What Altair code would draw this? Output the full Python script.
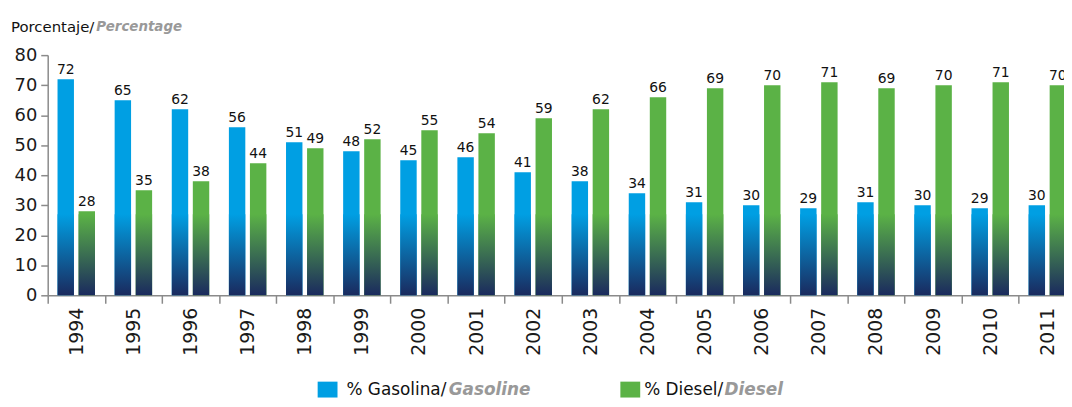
import altair as alt
import pandas as pd

years = ["1994", "1995", "1996", "1997", "1998", "1999", "2000", "2001", "2002",
         "2003", "2004", "2005", "2006", "2007", "2008", "2009", "2010", "2011"]
gasolina = [72, 65, 62, 56, 51, 48, 45, 46, 41, 38, 34, 31, 30, 29, 31, 30, 29, 30]
diesel = [28, 35, 38, 44, 49, 52, 55, 54, 59, 62, 66, 69, 70, 71, 69, 70, 71, 70]
fuels = ["Gasolina", "Diesel"]
y_ticks = [0, 10, 20, 30, 40, 50, 60, 70, 80]
gradient_top = 27

rows = []
for i, yr in enumerate(years):
    rows.append({"year": yr, "fuel": "Gasolina", "value": gasolina[i], "gtop": gradient_top})
    rows.append({"year": yr, "fuel": "Diesel", "value": diesel[i], "gtop": gradient_top})
df = pd.DataFrame(rows)
one = pd.DataFrame({"k": [0]})

FONT = "DejaVu Sans"
BLUE = "#009fe3"
GREEN = "#5bb246"
NAVY = "#1a2a5e"
GREY = "#8a8a8a"

x = alt.X("year:N",
          scale=alt.Scale(range=[0, 1036], paddingInner=0, paddingOuter=0),
          axis=alt.Axis(title=None, labelAngle=270, labelFontSize=19, labelFont=FONT,
                        labelColor="#1a1a1a", tickBand="extent", tickSize=8,
                        tickColor=GREY, domainColor=GREY, domainWidth=1.5,
                        tickWidth=1.5, labelPadding=4))
xo = alt.XOffset("fuel:N", scale=alt.Scale(domain=fuels, paddingInner=0.22, paddingOuter=0.467))
yaxis = alt.Axis(title=None, values=y_ticks, grid=False, labelFontSize=18,
                 labelFont=FONT, labelColor="#1a1a1a", tickSize=7,
                 tickColor=GREY, domainColor=GREY, domainWidth=1.5,
                 tickWidth=1.5, labelPadding=4)
y = alt.Y("value:Q", scale=alt.Scale(domain=[0, 80]), axis=yaxis)
ygrad = alt.Y("gtop:Q", scale=alt.Scale(domain=[0, 80]), axis=yaxis)

base = alt.Chart(df)

bars = base.mark_bar().encode(
    x=x, xOffset=xo, y=y,
    color=alt.Color("fuel:N", scale=alt.Scale(domain=fuels, range=[BLUE, GREEN]), legend=None),
)

def grad(c):
    return alt.Gradient(gradient="linear", x1=0, y1=0, x2=0, y2=1,
                        stops=[alt.GradientStop(offset=0, color=c),
                               alt.GradientStop(offset=1, color=NAVY)])

grad_g = base.transform_filter(alt.datum.fuel == "Gasolina").mark_bar(color=grad(BLUE)).encode(
    x=x, xOffset=xo, y=ygrad)
grad_d = base.transform_filter(alt.datum.fuel == "Diesel").mark_bar(color=grad(GREEN)).encode(
    x=x, xOffset=xo, y=ygrad)

labels = base.mark_text(dy=-9, fontSize=14, font=FONT, color="#111111").encode(
    x=x, xOffset=xo, y=y, text="value:Q")

def txt(t, xp, yp, size, color="#111111", weight="normal", style="normal"):
    return alt.Chart(one).mark_text(text=t, align="left", baseline="middle", fontSize=size,
                                    font=FONT, color=color, fontWeight=weight,
                                    fontStyle=style).encode(x=alt.value(xp), y=alt.value(yp))

def sq(x1, x2, y1, y2, c):
    return alt.Chart(one).mark_rect(color=c).encode(
        x=alt.value(x1), x2=alt.value(x2), y=alt.value(y1), y2=alt.value(y2))

annot = [
    txt("Porcentaje/", -37, -28, 15),
    txt("Percentage", 49, -28, 13.5, color="#999999", weight="bold", style="italic"),
    sq(272, 292, 329, 345, BLUE),
    txt("% Gasolina/", 301, 337, 17),
    txt("Gasoline", 404, 337, 17, color="#999999", weight="bold", style="italic"),
    sq(577, 597, 329, 345, GREEN),
    txt("% Diesel/", 601, 337, 17),
    txt("Diesel", 682, 337, 17, color="#999999", weight="bold", style="italic"),
]

chart = alt.layer(bars, grad_g, grad_d, labels, *annot).properties(
    width=1024, height=242,
    autosize=alt.AutoSizeParams(type="none"),
    padding={"left": 40, "top": 46, "right": 0, "bottom": 103},
).configure_view(stroke=None)

chart.save("out.html", embed_options={"renderer": "svg", "actions": False})
